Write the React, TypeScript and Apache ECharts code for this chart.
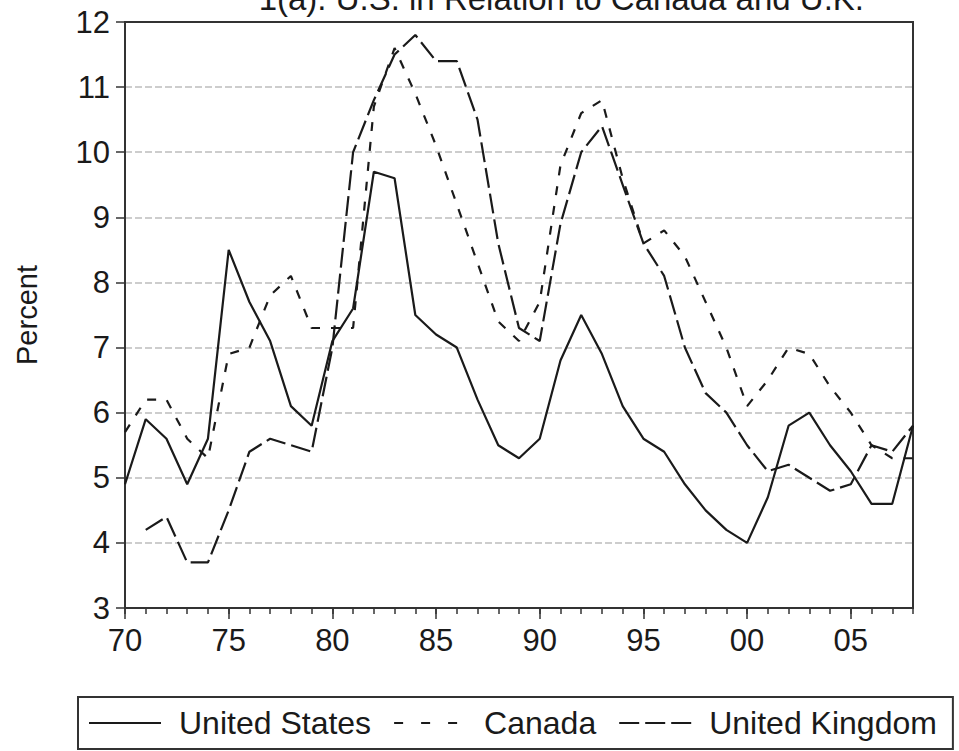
import React, { useEffect, useRef } from "react";
import * as echarts from "echarts";

const TITLE = "1(a). U.S. in Relation to Canada and U.K.";
const Y_NAME = "Percent";

const YEARS = [
  1970, 1971, 1972, 1973, 1974, 1975, 1976, 1977, 1978, 1979,
  1980, 1981, 1982, 1983, 1984, 1985, 1986, 1987, 1988, 1989,
  1990, 1991, 1992, 1993, 1994, 1995, 1996, 1997, 1998, 1999,
  2000, 2001, 2002, 2003, 2004, 2005, 2006, 2007, 2008,
];

const UNITED_STATES = [
  4.9, 5.9, 5.6, 4.9, 5.6, 8.5, 7.7, 7.1, 6.1, 5.8,
  7.1, 7.6, 9.7, 9.6, 7.5, 7.2, 7.0, 6.2, 5.5, 5.3,
  5.6, 6.8, 7.5, 6.9, 6.1, 5.6, 5.4, 4.9, 4.5, 4.2,
  4.0, 4.7, 5.8, 6.0, 5.5, 5.1, 4.6, 4.6, 5.8,
];

const CANADA = [
  5.7, 6.2, 6.2, 5.6, 5.3, 6.9, 7.0, 7.8, 8.1, 7.3,
  7.3, 7.3, 10.7, 11.6, 10.9, 10.1, 9.2, 8.3, 7.4, 7.1,
  7.7, 9.8, 10.6, 10.8, 9.6, 8.6, 8.8, 8.4, 7.7, 7.0,
  6.1, 6.5, 7.0, 6.9, 6.4, 6.0, 5.5, 5.3, 5.3,
];

const UNITED_KINGDOM = [
  null, 4.2, 4.4, 3.7, 3.7, 4.5, 5.4, 5.6, 5.5, 5.4,
  7.0, 10.0, 10.8, 11.5, 11.8, 11.4, 11.4, 10.5, 8.6, 7.3,
  7.1, 8.9, 10.0, 10.4, 9.5, 8.6, 8.1, 7.0, 6.3, 6.0,
  5.5, 5.1, 5.2, 5.0, 4.8, 4.9, 5.5, 5.4, 5.8,
];

const X_LABEL_YEARS = [1970, 1975, 1980, 1985, 1990, 1995, 2000, 2005];
const Y_MIN = 3;
const Y_MAX = 12;

const FONT = "'Liberation Sans', Arial, Helvetica, sans-serif";
const INK = "#1a1a1a";

function pairs(values: (number | null)[]) {
  return YEARS.map((y, i) => [y, values[i]]);
}

export default function App() {
  const ref = useRef<HTMLDivElement>(null);

  useEffect(() => {
    if (!ref.current) return;
    const chart = echarts.init(ref.current, null, { renderer: "svg" });

    const lineBase = { color: INK, width: 2.2 };

    chart.setOption({
      animation: false,
      backgroundColor: "#ffffff",
      color: [INK, INK, INK],
      textStyle: { fontFamily: FONT },
      grid: {
        left: 125,
        right: 46,
        top: 22,
        bottom: 143,
        show: true,
        borderColor: "#333",
        borderWidth: 2,
        backgroundColor: "transparent",
      },
      graphic: [
        {
          type: "text",
          x: 864,
          y: -2,
          z: 10,
          style: {
            text: TITLE,
            fontFamily: FONT,
            fontSize: 33,
            fill: INK,
            align: "right",
            verticalAlign: "middle",
          },
        },
      ],
      legend: {
        show: true,
        left: 78,
        top: 697,
        width: 890,
        orient: "horizontal",
        padding: [10, 16, 10, 10],
        itemWidth: 72,
        itemHeight: 14,
        itemGap: 22,
        borderColor: "#333",
        borderWidth: 2,
        borderRadius: 0,
        selectedMode: false,
        itemStyle: { opacity: 0, borderWidth: 0 },
        textStyle: {
          fontFamily: FONT,
          fontSize: 32,
          color: INK,
          padding: [0, 0, 0, 13],
        },
        data: [
          { name: "United States", lineStyle: { type: "solid", width: 2 } },
          { name: "Canada", lineStyle: { type: [9, 18], width: 2 } },
          { name: "United Kingdom", lineStyle: { type: [20, 6], width: 2 } },
        ],
      },
      xAxis: [
        {
          type: "value",
          position: "bottom",
          min: 1970,
          max: 2008,
          interval: 1,
          axisLine: { show: true, lineStyle: { color: "#333", width: 2 } },
          axisTick: { show: true, length: 6, lineStyle: { color: "#333", width: 1.5 } },
          axisLabel: { show: false },
          splitLine: { show: false },
        },
        {
          type: "value",
          position: "bottom",
          min: 1970,
          max: 2008,
          interval: 5,
          axisLine: { show: false },
          axisTick: {
            show: true,
            length: 11,
            customValues: X_LABEL_YEARS,
            lineStyle: { color: "#333", width: 1.5 },
          },
          axisLabel: {
            show: true,
            customValues: X_LABEL_YEARS,
            margin: 17,
            fontSize: 31,
            fontFamily: FONT,
            color: INK,
            formatter: (v: number) =>
              X_LABEL_YEARS.indexOf(Math.round(v)) >= 0 ? String(Math.round(v)).slice(2) : "",
          },
          splitLine: { show: false },
        },
      ],
      yAxis: {
        type: "value",
        min: Y_MIN,
        max: Y_MAX,
        interval: 1,
        name: Y_NAME,
        nameLocation: "middle",
        nameGap: 84,
        nameRotate: 90,
        nameTextStyle: { fontFamily: FONT, fontSize: 29, color: INK },
        axisLine: { show: true, lineStyle: { color: "#333", width: 2 } },
        axisTick: { show: true, length: 9, lineStyle: { color: "#333", width: 1.5 } },
        axisLabel: { margin: 15, fontSize: 31, fontFamily: FONT, color: INK },
        splitLine: {
          show: true,
          showMinLine: false,
          showMaxLine: false,
          lineStyle: { color: "#bdbdbd", width: 1.5, type: [7, 3] },
        },
      },
      series: [
        {
          name: "United States",
          type: "line",
          xAxisIndex: 0,
          data: pairs(UNITED_STATES),
          symbol: "none",
          itemStyle: { color: INK },
          lineStyle: { ...lineBase, type: "solid" },
          z: 3,
        },
        {
          name: "Canada",
          type: "line",
          xAxisIndex: 0,
          data: pairs(CANADA),
          symbol: "none",
          itemStyle: { color: INK },
          lineStyle: { ...lineBase, type: [9, 11] },
          z: 2,
        },
        {
          name: "United Kingdom",
          type: "line",
          xAxisIndex: 0,
          data: pairs(UNITED_KINGDOM),
          symbol: "none",
          connectNulls: false,
          itemStyle: { color: INK },
          lineStyle: { ...lineBase, type: [20, 6] },
          z: 2,
        },
      ],
    });

    return () => chart.dispose();
  }, []);

  return (
    <div
      ref={ref}
      style={{ position: "absolute", left: 0, top: 0, width: 959, height: 751 }}
    />
  );
}
